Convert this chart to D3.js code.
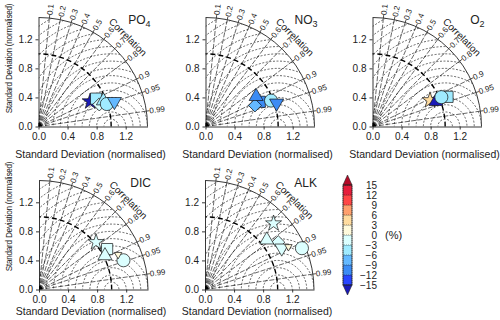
<!DOCTYPE html>
<html>
<head>
<meta charset="utf-8">
<script src="https://cdn.jsdelivr.net/npm/d3@7"></script>
<style>
  body { margin: 0; background: #fff; }
  text { font-family: "Liberation Sans", Arial, sans-serif; fill: #222; }
</style>
</head>
<body>
<div id="chart"></div>
<script>
// panels and models
var panelTitles = [["PO", "4"], ["NO", "3"], ["O", "2"], ["DIC", ""], ["ALK", ""]];
var modelShapes = ["star", "square", "diamond", "triangle-up", "circle", "triangle-down", "small-triangle"];

// normalised std, correlation, bias (%) per model (null = not shown)
var po4Std  = [0.79, 0.88, 0.89, 0.96, 0.99, 1.10, null];
var po4Cor  = [0.90, 0.90, 0.94, 0.93, 0.95, 0.95, null];
var po4Bias = [-17, -5, -1, -4, -4, -8, null];

var no3Std  = [null, 0.82, 0.74, 0.81, 0.97, 1.03, null];
var no3Cor  = [null, 0.91, 0.92, 0.86, 0.93, 0.95, null];
var no3Bias = [null, -10, -8, -11, -4, -10, null];

var o2Std  = [0.87, 1.11, null, 0.94, 1.03, null, null];
var o2Cor  = [0.91, 0.93, null, 0.93, 0.92, null, null];
var o2Bias = [5, -4, null, -17, -4, null, null];

var dicStd  = [1.02, 1.09, null, 1.02, 1.23, null, 1.19];
var dicCor  = [0.77, 0.86, null, 0.89, 0.945, null, 0.915];
var dicBias = [-2, -2, null, -2, -2, null, 2];

var alkStd  = [1.31, null, 1.20, 1.09, 1.45, 1.20, 1.29];
var alkCor  = [0.72, null, 0.84, 0.78, 0.92, 0.88, 0.89];
var alkBias = [-2, null, -2, -2, -2, -2, 2];

var panelStd  = [po4Std, no3Std, o2Std, dicStd, alkStd];
var panelCor  = [po4Cor, no3Cor, o2Cor, dicCor, alkCor];
var panelBias = [po4Bias, no3Bias, o2Bias, dicBias, alkBias];

// grid
var sdTicks = [0.0, 0.4, 0.8, 1.2];
var corTicks = [0.1, 0.2, 0.3, 0.4, 0.5, 0.6, 0.7, 0.8, 0.9, 0.95, 0.99];
var rmsLevels = [0.1, 0.2, 0.3, 0.4, 0.5, 0.6, 0.7, 0.8, 0.9, 1.0, 1.1, 1.2, 1.3, 1.4, 1.5, 1.6, 1.7, 1.8];

// colour bar
var biasLevels = [-15, -12, -9, -6, -3, 0, 3, 6, 9, 12, 15];
var biasColors = ["#1a1ab8", "#2846ff", "#3c8cf5", "#64b9ff", "#a0ebff", "#dcffff",
                  "#fffadc", "#ffdca0", "#ffa06e", "#ff4646", "#e61e3c", "#b40a28"];

var origins = [[38.5, 126.5], [205.5, 126.5], [372.5, 126.5], [39, 289.5], [205, 289.5]];

var svg = d3.select("#chart").append("svg").attr("width", 500).attr("height", 320);

var r = d3.scaleLinear().domain([0, 1.5]).range([0, 109]);
var ry = d3.scaleLinear().domain([0, 1.5]).range([0, -109]);
var color = d3.scaleThreshold().domain(biasLevels).range(biasColors);
var R = r(1.5);

function symbolPath(shape) {
  var s;
  if (shape === "circle") s = d3.symbol(d3.symbolCircle, 135);
  else if (shape === "square") s = d3.symbol(d3.symbolSquare, 125);
  else if (shape === "diamond") s = d3.symbol(d3.symbolSquare, 85);
  else if (shape === "triangle-up" || shape === "triangle-down") s = d3.symbol(d3.symbolTriangle, 85);
  else if (shape === "star") s = d3.symbol(d3.symbolStar, 80);
  else s = d3.symbol(d3.symbolTriangle, 24);
  return s();
}
function symbolRot(shape) {
  if (shape === "diamond") return 45;
  if (shape === "triangle-down" || shape === "small-triangle") return 180;
  return 0;
}

panelTitles.forEach(function(title, i) {
  var o = origins[i];
  var g = svg.append("g").attr("transform", "translate(" + o[0] + "," + o[1] + ")");

  g.append("clipPath").attr("id", "clip" + i)
    .append("path")
    .attr("d", "M0,0 L" + R + ",0 A" + R + "," + R + " 0 0 0 0," + (-R) + " Z");

  var grid = g.append("g").attr("clip-path", "url(#clip" + i + ")");

  // rms circles round the reference point
  grid.selectAll("circle.rms")
    .data(rmsLevels)
    .enter().append("circle")
    .attr("class", "rms")
    .attr("cx", r(1)).attr("cy", 0)
    .attr("r", function(d) { return r(d); })
    .attr("fill", "none")
    .attr("stroke", "#000")
    .attr("stroke-width", 0.6)
    .attr("stroke-dasharray", "2,1.6");

  // correlation rays
  grid.selectAll("line.ray")
    .data(corTicks)
    .enter().append("line")
    .attr("class", "ray")
    .attr("x1", 0).attr("y1", 0)
    .attr("x2", function(d) { return R * d; })
    .attr("y2", function(d) { return -R * Math.sqrt(1 - d * d); })
    .attr("stroke", "#000")
    .attr("stroke-width", 0.6)
    .attr("stroke-dasharray", "5,1.5");

  // reference std arc
  g.append("path")
    .attr("d", "M" + r(1) + ",0 A" + r(1) + "," + r(1) + " 0 0 0 0," + (-r(1)))
    .attr("fill", "none").attr("stroke", "#000")
    .attr("stroke-width", 1.4).attr("stroke-dasharray", "5,3");

  // outer arc
  g.append("path")
    .attr("d", "M" + R + ",0 A" + R + "," + R + " 0 0 0 0," + (-R))
    .attr("fill", "none").attr("stroke", "#222").attr("stroke-width", 0.9);

  // ticks on the outer arc
  g.selectAll("line.ctick")
    .data(corTicks)
    .enter().append("line")
    .attr("class", "ctick")
    .attr("x1", function(d) { return R * d; })
    .attr("y1", function(d) { return -R * Math.sqrt(1 - d * d); })
    .attr("x2", function(d) { return (R + 3) * d; })
    .attr("y2", function(d) { return -(R + 3) * Math.sqrt(1 - d * d); })
    .attr("stroke", "#222").attr("stroke-width", 0.8);

  // correlation labels
  g.selectAll("text.clab")
    .data(corTicks)
    .enter().append("text")
    .attr("class", "clab")
    .attr("transform", function(d) {
      var a = Math.acos(d) * 180 / Math.PI;
      return "rotate(" + (-a) + ") translate(" + (R + 3) + ",0)";
    })
    .attr("dy", "0.35em")
    .attr("font-size", 8)
    .text(function(d) { return d; });

  g.append("text")
    .attr("transform", "rotate(-45) translate(" + (r(1.74)) + ",0) rotate(90)")
    .attr("text-anchor", "middle")
    .attr("dy", "0.35em")
    .attr("font-size", 10)
    .text("Correlation");

  // axes
  var xAxis = g.append("g")
    .call(d3.axisBottom(r).tickValues(sdTicks).tickFormat(d3.format(".1f")).tickSize(3).tickSizeOuter(0));
  var yAxis = g.append("g")
    .call(d3.axisLeft(ry).tickValues(sdTicks).tickFormat(d3.format(".1f")).tickSize(3).tickSizeOuter(0));
  [xAxis, yAxis].forEach(function(a) {
    a.attr("font-family", null).attr("font-size", null);
    a.selectAll("text").attr("font-size", 10).style("fill", "#222");
    a.selectAll("path, line").attr("stroke", "#222").attr("stroke-width", 0.9);
  });

  // black dot at origin
  g.append("path")
    .attr("d", "M0,0 L3.5,0 A3.5,3.5 0 0 0 0,-3.5 Z")
    .attr("fill", "#000");

  // markers
  var pts = [];
  modelShapes.forEach(function(shape, k) {
    var sd = panelStd[i][k], c = panelCor[i][k];
    if (sd === null) return;
    pts.push({ shape: shape, x: sd * c, y: sd * Math.sqrt(1 - c * c), bias: panelBias[i][k] });
  });
  g.selectAll("path.mark")
    .data(pts)
    .enter().append("path")
    .attr("class", "mark")
    .attr("d", function(d) { return symbolPath(d.shape); })
    .attr("transform", function(d) {
      return "translate(" + r(d.x) + "," + ry(d.y) + ") rotate(" + symbolRot(d.shape) + ")";
    })
    .attr("fill", function(d) { return color(d.bias); })
    .attr("stroke", "#111")
    .attr("stroke-width", 0.7);

  // title
  var t = g.append("text")
    .attr("x", 112).attr("y", -103)
    .attr("text-anchor", "end")
    .attr("font-size", 12);
  t.append("tspan").text(title[0]);
  if (title[1]) t.append("tspan").attr("dy", 3).attr("font-size", 9).text(title[1]);

  // axis titles
  g.append("text")
    .attr("x", 52).attr("y", i < 3 ? 31 : 25)
    .attr("text-anchor", "middle")
    .attr("font-size", 10.5)
    .text("Standard Deviation (normalised)");
  if (i === 0 || i === 3) {
    g.append("text")
      .attr("transform", "translate(" + (-29.5) + "," + (i === 0 ? -68 : -73) + ") rotate(-90)")
      .attr("text-anchor", "middle")
      .attr("dy", "0.35em")
      .attr("font-size", 8.2)
      .attr("letter-spacing", -0.25)
      .text("Standard Deviation (normalised)");
  }
});

// colour bar
var cb = svg.append("g").attr("transform", "translate(343,0)");
var cy = d3.scaleLinear().domain([-15, 15]).range([285, 185]);
var bw = 9;
var boxes = biasLevels.slice(0, -1).map(function(v, k) { return [v, biasLevels[k + 1]]; });
cb.selectAll("rect")
  .data(boxes)
  .enter().append("rect")
  .attr("x", 0).attr("width", bw)
  .attr("y", function(d) { return cy(d[1]); })
  .attr("height", function(d) { return cy(d[0]) - cy(d[1]); })
  .attr("fill", function(d) { return color(d[0]); })
  .attr("stroke", "#222").attr("stroke-width", 0.5).attr("stroke-dasharray", "1,1");
cb.append("path")
  .attr("d", "M0," + cy(15) + " L" + (bw / 2) + "," + (cy(15) - 10) + " L" + bw + "," + cy(15) + " Z")
  .attr("fill", color(16)).attr("stroke", "#222").attr("stroke-width", 0.6);
cb.append("path")
  .attr("d", "M0," + cy(-15) + " L" + (bw / 2) + "," + (cy(-15) + 10) + " L" + bw + "," + cy(-15) + " Z")
  .attr("fill", color(-16)).attr("stroke", "#222").attr("stroke-width", 0.6);
cb.append("rect")
  .attr("x", 0).attr("y", cy(15)).attr("width", bw).attr("height", cy(-15) - cy(15))
  .attr("fill", "none").attr("stroke", "#222").attr("stroke-width", 0.7);
cb.selectAll("text.cl")
  .data(biasLevels)
  .enter().append("text")
  .attr("class", "cl")
  .attr("x", 34).attr("y", function(d) { return cy(d); })
  .attr("dy", "0.35em")
  .attr("text-anchor", "end")
  .attr("font-size", 10)
  .text(function(d) { return d < 0 ? "\u2212" + (-d) : d; });
cb.append("text")
  .attr("x", 42).attr("y", cy(0))
  .attr("dy", "0.35em")
  .attr("font-size", 11)
  .text("(%)");
</script>
</body>
</html>
